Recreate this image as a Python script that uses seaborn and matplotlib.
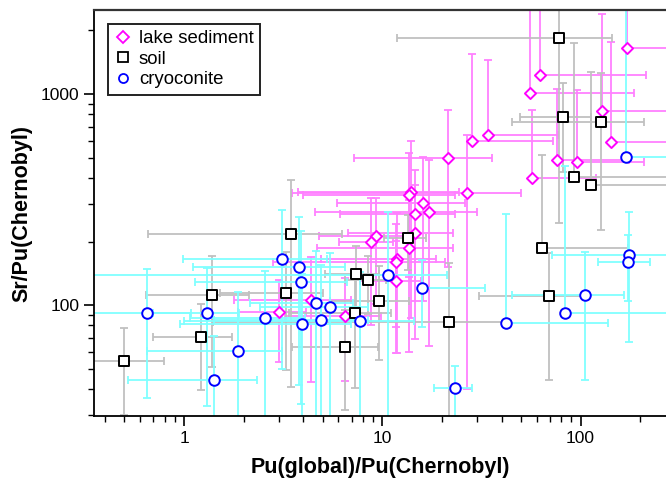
import numpy as np
import pandas as pd
import matplotlib
matplotlib.use("Agg")
import matplotlib.pyplot as plt
from matplotlib.lines import Line2D
from matplotlib.ticker import LogLocator, FuncFormatter, NullFormatter
import seaborn as sns

# ---------------- data ----------------
lake_x = [172, 62.8, 55.3, 128.5, 142.6, 34.0, 28.4, 21.4, 75.9, 95.7, 57.2, 26.7, 14.0, 13.6,
          16.0, 17.3, 14.7, 14.7, 9.24, 8.72, 13.7, 11.8, 11.7, 11.7, 4.38, 3.0, 6.52]
lake_xerr = [200, 151, 130, 200, 200, 42.7, 44, 14.2, 100, 113, 63, 23.2, 10.25, 9.6,
             10.1, 12.75, 8.6, 8, 4.46, 2.64, 9, 6.9, 8.9, 4, 2.6, 1.14, 3.3]
lake_y = [1650, 1227, 1008, 834, 590, 640, 597, 495, 485, 474, 400, 340, 344, 332,
          305, 275, 270, 219, 212, 200, 187, 166, 160, 130, 106, 93, 88.7]
lake_yerr = [2000, 1500, 1600, 1559, 1167, 805, 945, 343, 574, 567, 439, 300, 257, 196,
             200, 211, 166, 150, 111, 120, 127, 107, 81, 71, 62.6, 39, 45]

soil_x = [78.3, 81.3, 127, 92.4, 113.5, 64, 69.7, 21.8, 3.47, 13.4, 7.38, 8.45, 9.57, 7.24,
          6.52, 3.28, 1.38, 1.215, 0.495]
soil_xerr = [66.5, 32, 82, 200, 180, 110, 39, 20.4, 2.81, 3.2, 2.27, 2.0, 4.1, 3.85,
             3.0, 1.76, 0.74, 0.52, 0.3]
soil_y = [1849, 776, 740, 404, 370, 187, 110, 83.4, 216, 207, 141, 131, 104, 91.4,
          63.4, 114, 111, 70.3, 54.1]
soil_yerr = [1605, 348, 513, 1346, 906, 325, 65.7, 74.6, 175, 60, 49, 40, 49, 51,
             31.6, 65, 60, 30.8, 24]

cryo_x = [170, 175, 173, 105.9, 83.3, 42.2, 23.3, 3.11, 3.78, 3.9, 4.64, 5.42, 4.92, 3.95,
          7.76, 10.7, 15.9, 2.57, 0.649, 1.30, 1.88, 1.42]
cryo_xerr = [200, 103, 50, 60.7, 200, 95, 5, 2.12, 2.67, 2.77, 2.5, 3, 3.5, 3,
             6.76, 10.4, 17.2, 1.5, 0.44, 0.6, 1.23, 0.9]
cryo_y = [501, 172, 160, 111, 91.6, 82.5, 40.6, 166, 152, 129, 102.5, 98.2, 84.9, 81,
          84, 139, 121, 87.1, 92, 91.3, 60.5, 44]
cryo_yerr = [2200, 105, 55, 67, 365, 188, 11, 116, 110, 95, 77, 79, 70, 60,
             60, 138, 42, 58, 55.6, 58, 55, 27.6]

series_names = ["lake sediment", "soil", "cryoconite"]
# --------------------------------------

sns.set_style("ticks")
plt.rcParams["font.family"] = ["Liberation Sans", "DejaVu Sans"]
plt.rcParams["text.color"] = "black"
plt.rcParams["axes.labelcolor"] = "black"
plt.rcParams["xtick.color"] = "black"
plt.rcParams["ytick.color"] = "black"

fig = plt.figure(figsize=(6.66, 4.82), dpi=100)
ax = fig.add_axes([94 / 666, 1 - 416 / 482, (666 - 94) / 666, 406 / 482])

series = [
    (lake_x, lake_xerr, lake_y, lake_yerr, "D", "#FF00FF", "#FF80FF", 32),
    (soil_x, soil_xerr, soil_y, soil_yerr, "s", "#000000", "#C0C0C0", 50),
    (cryo_x, cryo_xerr, cryo_y, cryo_yerr, "o", "#0000FF", "#80FFFF", 58),
]

frames = []
for name, (xs, xe, ys, ye, mk, mc, ec, sz) in zip(series_names, series):
    xs = np.asarray(xs, float); xe = np.asarray(xe, float)
    ys = np.asarray(ys, float); ye = np.asarray(ye, float)
    xlo = np.where(xs - xe > 0, xe, 0.0)
    ylo = np.where(ys - ye > 0, ye, 0.0)
    ax.errorbar(xs, ys, xerr=[xlo, xe], yerr=[ylo, ye], fmt="none", ecolor=ec,
                elinewidth=1.3, capsize=3, capthick=1.3, zorder=1)
    frames.append(pd.DataFrame({"x": xs, "y": ys, "type": name}))

df = pd.concat(frames, ignore_index=True)
for name, (xs, xe, ys, ye, mk, mc, ec, sz) in zip(series_names, series):
    sub = df[df["type"] == name]
    sns.scatterplot(data=sub, x="x", y="y", marker=mk, s=sz, color="white",
                    edgecolor=mc, linewidth=1.4, ax=ax, zorder=3, legend=False)

ax.set_xscale("log")
ax.set_yscale("log")
ax.set_xlim(0.351, 270)
ax.set_ylim(29.8, 2500)

fmt = FuncFormatter(lambda v, p: f"{v:g}")
ax.xaxis.set_major_locator(LogLocator(base=10))
ax.yaxis.set_major_locator(LogLocator(base=10))
ax.xaxis.set_minor_locator(LogLocator(base=10, subs=np.arange(2, 10)))
ax.yaxis.set_minor_locator(LogLocator(base=10, subs=np.arange(2, 10)))
ax.xaxis.set_major_formatter(fmt)
ax.yaxis.set_major_formatter(fmt)
ax.xaxis.set_minor_formatter(NullFormatter())
ax.yaxis.set_minor_formatter(NullFormatter())
ax.tick_params(which="major", direction="out", length=7, width=1.2, labelsize=12.5,
               colors="black", top=False, right=False)
ax.tick_params(which="minor", direction="out", length=4, width=1.0, colors="black",
               top=False, right=False)

for sp in ["left", "bottom"]:
    ax.spines[sp].set_color("black")
    ax.spines[sp].set_linewidth(1.3)
ax.spines["top"].set_visible(True)
ax.spines["top"].set_color("#333333")
ax.spines["top"].set_linewidth(1.6)
ax.spines["right"].set_visible(False)

ax.set_xlabel("Pu(global)/Pu(Chernobyl)", fontsize=15.5, fontweight="bold",
              labelpad=8, color="black")
ax.set_ylabel("Sr/Pu(Chernobyl)", fontsize=15.5, fontweight="bold", labelpad=6,
              color="black")

handles = [
    Line2D([], [], linestyle="none", marker="D", markersize=6, markerfacecolor="white",
           markeredgecolor="#FF00FF", markeredgewidth=1.3),
    Line2D([], [], linestyle="none", marker="s", markersize=6.5, markerfacecolor="white",
           markeredgecolor="#000000", markeredgewidth=1.3),
    Line2D([], [], linestyle="none", marker="o", markersize=6.5, markerfacecolor="white",
           markeredgecolor="#0000FF", markeredgewidth=1.3),
]
leg = ax.legend(handles, series_names, loc="upper left", bbox_to_anchor=(0.025, 0.966),
                frameon=True, fancybox=False, fontsize=13.4, handlelength=0.9,
                handletextpad=0.4, borderpad=0.35, labelspacing=0.18, borderaxespad=0)
leg.get_frame().set_edgecolor("#222222")
leg.get_frame().set_linewidth(1.4)
leg.get_frame().set_alpha(1)
for t in leg.get_texts():
    t.set_color("black")

fig.savefig("out.png", dpi=100)
